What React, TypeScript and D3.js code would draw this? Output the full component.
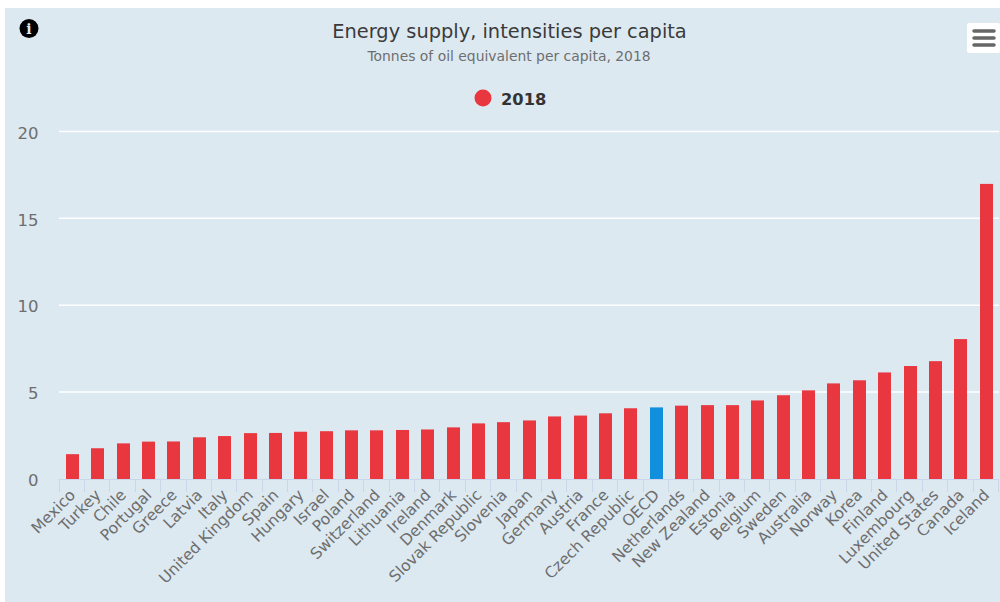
import React from 'react';
import * as d3 from 'd3';

const countries = [
  'Mexico', 'Turkey', 'Chile', 'Portugal', 'Greece', 'Latvia', 'Italy', 'United Kingdom', 'Spain',
  'Hungary', 'Israel', 'Poland', 'Switzerland', 'Lithuania', 'Ireland', 'Denmark', 'Slovak Republic',
  'Slovenia', 'Japan', 'Germany', 'Austria', 'France', 'Czech Republic', 'OECD', 'Netherlands',
  'New Zealand', 'Estonia', 'Belgium', 'Sweden', 'Australia', 'Norway', 'Korea', 'Finland',
  'Luxembourg', 'United States', 'Canada', 'Iceland',
];
const values2018 = [
  1.43, 1.77, 2.05, 2.15, 2.16, 2.4, 2.47, 2.64, 2.65, 2.72, 2.75, 2.8, 2.8, 2.82, 2.85, 2.97, 3.2,
  3.27, 3.37, 3.6, 3.65, 3.78, 4.07, 4.12, 4.22, 4.25, 4.25, 4.52, 4.82, 5.1, 5.5, 5.68, 6.13, 6.5,
  6.78, 8.05, 16.98,
];
const yTicks = [0, 5, 10, 15, 20];

const RED = '#e93740';
const BLUE = '#0f8fdc';
const FONT = '"DejaVu Sans", sans-serif';

const plot = { left: 59.6, right: 999, top: 131.4, bottom: 479 };

export default function App() {
  const x = d3.scaleBand().domain(countries).range([plot.left, plot.right]);
  const y = d3.scaleLinear().domain([0, 20]).range([plot.bottom, plot.top]);
  // tick labels drift slightly from the gridlines in the original
  const yLabel = d3.scaleLinear().domain([0, 20]).range([485.5, 139]);
  const barW = 13;

  return (
    <svg width={1000} height={602} style={{ position: 'absolute', left: 0, top: 0, display: 'block' }} fontFamily={FONT}>
      <rect x={0} y={0} width={1000} height={602} fill="#ffffff" />
      <rect x={5} y={8} width={995} height={594} fill="#dde9f1" />

      {/* info icon */}
      <circle cx={29} cy={28.5} r={9.5} fill="#000000" />
      <text x={29} y={33.5} textAnchor="middle" fontSize={14} fontWeight="bold" fontFamily='"DejaVu Serif", serif' fill="#dde9f1">i</text>

      {/* menu button */}
      <rect x={967} y={23} width={33} height={30} rx={2} fill="#ffffff" />
      {[31, 38, 45].map((ly) => (
        <line key={ly} x1={974} x2={994} y1={ly} y2={ly} stroke="#666666" strokeWidth={3.5} strokeLinecap="round" />
      ))}

      <text x={509.5} y={38} textAnchor="middle" fontSize={19.4} fill="#3a3a3a">Energy supply, intensities per capita</text>
      <text x={509} y={61} textAnchor="middle" fontSize={13.9} fill="#6e6e6e">Tonnes of oil equivalent per capita, 2018</text>

      {/* legend */}
      <circle cx={483} cy={98} r={8.5} fill={RED} />
      <text x={501} y={105} fontSize={16.3} fontWeight="bold" fill="#333333">2018</text>

      {/* gridlines and y axis */}
      {yTicks.filter((t) => t > 0).map((t) => (
        <line key={t} x1={59} x2={plot.right} y1={y(t)} y2={y(t)} stroke="#ffffff" strokeWidth={1.5} />
      ))}
      {yTicks.map((t) => (
        <text key={t} x={38.5} y={yLabel(t)} textAnchor="end" fontSize={16.5} fill="#6e6e6e">{t}</text>
      ))}

      {/* bars */}
      {countries.map((c, i) => (
        <rect
          key={c}
          x={Math.round((x(c) as number) + x.bandwidth() / 2 - barW / 2)}
          y={y(values2018[i])}
          width={barW}
          height={plot.bottom - y(values2018[i])}
          fill={c === 'OECD' ? BLUE : RED}
        />
      ))}

      {/* x axis */}
      <line x1={59} x2={plot.right} y1={plot.bottom + 0.5} y2={plot.bottom + 0.5} stroke="#ccd6eb" />
      {[...countries.map((c) => x(c) as number), plot.right].map((tx, i) => (
        <line key={i} x1={Math.round(tx) - 0.5} x2={Math.round(tx) - 0.5} y1={plot.bottom} y2={plot.bottom + 13} stroke="#ccd6eb" />
      ))}
      {countries.map((c) => {
        const cx = (x(c) as number) + x.bandwidth() / 2 + 4;
        return (
          <text key={c} transform={`translate(${cx},${plot.bottom + 17}) rotate(-45)`} textAnchor="end" fontSize={15.6} fill="#6e6e6e">{c}</text>
        );
      })}
    </svg>
  );
}
